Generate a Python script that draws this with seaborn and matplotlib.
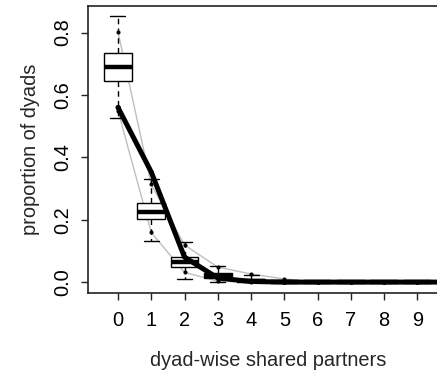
import matplotlib
matplotlib.use("Agg")
import matplotlib.pyplot as plt
import numpy as np
import pandas as pd
import seaborn as sns

# Number of dyad-wise shared partners (categories on the x axis)
partners = [0, 1, 2, 3, 4, 5, 6, 7, 8, 9, 10]
tick_labels = ["0", "1", "2", "3", "4", "5", "6", "7", "8", "9"]
y_ticks = [0.0, 0.2, 0.4, 0.6, 0.8]
y_tick_labels = ["0.0", "0.2", "0.4", "0.6", "0.8"]

# Simulated distribution summaries (whiskers, quartiles, median)
box_low = [0.525, 0.132, 0.011, 0.000, 0.000, 0.000, 0.0, 0.0, 0.0, 0.0, 0.0]
box_q1 = [0.645, 0.202, 0.049, 0.013, 0.002, 0.000, 0.0, 0.0, 0.0, 0.0, 0.0]
box_med = [0.690, 0.224, 0.063, 0.019, 0.005, 0.000, 0.0, 0.0, 0.0, 0.0, 0.0]
box_q3 = [0.733, 0.254, 0.079, 0.029, 0.010, 0.003, 0.0, 0.0, 0.0, 0.0, 0.0]
box_high = [0.852, 0.329, 0.129, 0.052, 0.022, 0.008, 0.0, 0.0, 0.0, 0.0, 0.0]

# Observed network statistics and 95% simulation bounds
observed = [0.560, 0.353, 0.080, 0.013, 0.002, 0.0, 0.0, 0.0, 0.0, 0.0, 0.0]
bound_low = [0.550, 0.159, 0.031, 0.003, 0.000, 0.0, 0.0, 0.0, 0.0, 0.0, 0.0]
bound_high = [0.802, 0.313, 0.119, 0.048, 0.026, 0.010, 0.0, 0.0, 0.0, 0.0, 0.0]

sns.set_theme(style="white")
plt.rcParams["font.family"] = ["Liberation Sans", "DejaVu Sans"]

W, H = 437, 371
fig = plt.figure(figsize=(W / 100, H / 100), dpi=100)
ax = fig.add_axes([88 / W, 78.3 / H, 359.4 / W, 287 / H])

df = pd.DataFrame({
    "partners": partners,
    "observed": observed,
    "low": bound_low,
    "high": bound_high,
})

# 95% bounds in light gray, behind the boxes
for col in ["low", "high"]:
    sns.lineplot(data=df, x="partners", y=col, ax=ax, color="#bfbfbf",
                 linewidth=1.0, marker="o", markersize=2.2,
                 markerfacecolor="black", markeredgecolor="black",
                 zorder=1)

stats = [
    dict(whislo=lo, q1=a, med=m, q3=b, whishi=hi, fliers=[])
    for lo, a, m, b, hi in zip(box_low, box_q1, box_med, box_q3, box_high)
]
ax.bxp(stats, positions=partners, widths=0.83, capwidths=0.45,
       patch_artist=True, showfliers=False, manage_ticks=False,
       boxprops=dict(facecolor="white", edgecolor="black", linewidth=1.0),
       medianprops=dict(color="black", linewidth=3.2),
       whiskerprops=dict(color="black", linewidth=1.0, linestyle=(0, (4, 3))),
       capprops=dict(color="black", linewidth=1.0),
       zorder=2)

# Observed statistics as a thick black line
sns.lineplot(data=df, x="partners", y="observed", ax=ax, color="black",
             linewidth=3.6, marker="o", markersize=2.6,
             markerfacecolor="black", markeredgecolor="black", zorder=3)

ax.set_xlim(-0.9, 9.9)
ax.set_ylim(-0.034, 0.886)
ax.set_xticks(partners[:10])
ax.set_xticklabels(tick_labels)
ax.set_yticks(y_ticks)
ax.set_yticklabels(y_tick_labels, rotation=90, va="center")

ax.tick_params(axis="both", direction="out", length=5, width=1,
               color="#222222", labelsize=14.4, labelcolor="black",
               bottom=True, left=True)
ax.tick_params(axis="x", pad=8)
ax.tick_params(axis="y", pad=6)

for sp in ax.spines.values():
    sp.set_visible(True)
    sp.set_color("#222222")
    sp.set_linewidth(1.2)

ax.set_xlabel("dyad-wise shared partners", fontsize=14.4, labelpad=15)
ax.set_ylabel("proportion of dyads", fontsize=14.4, labelpad=10)

fig.savefig("out.png", dpi=100)
